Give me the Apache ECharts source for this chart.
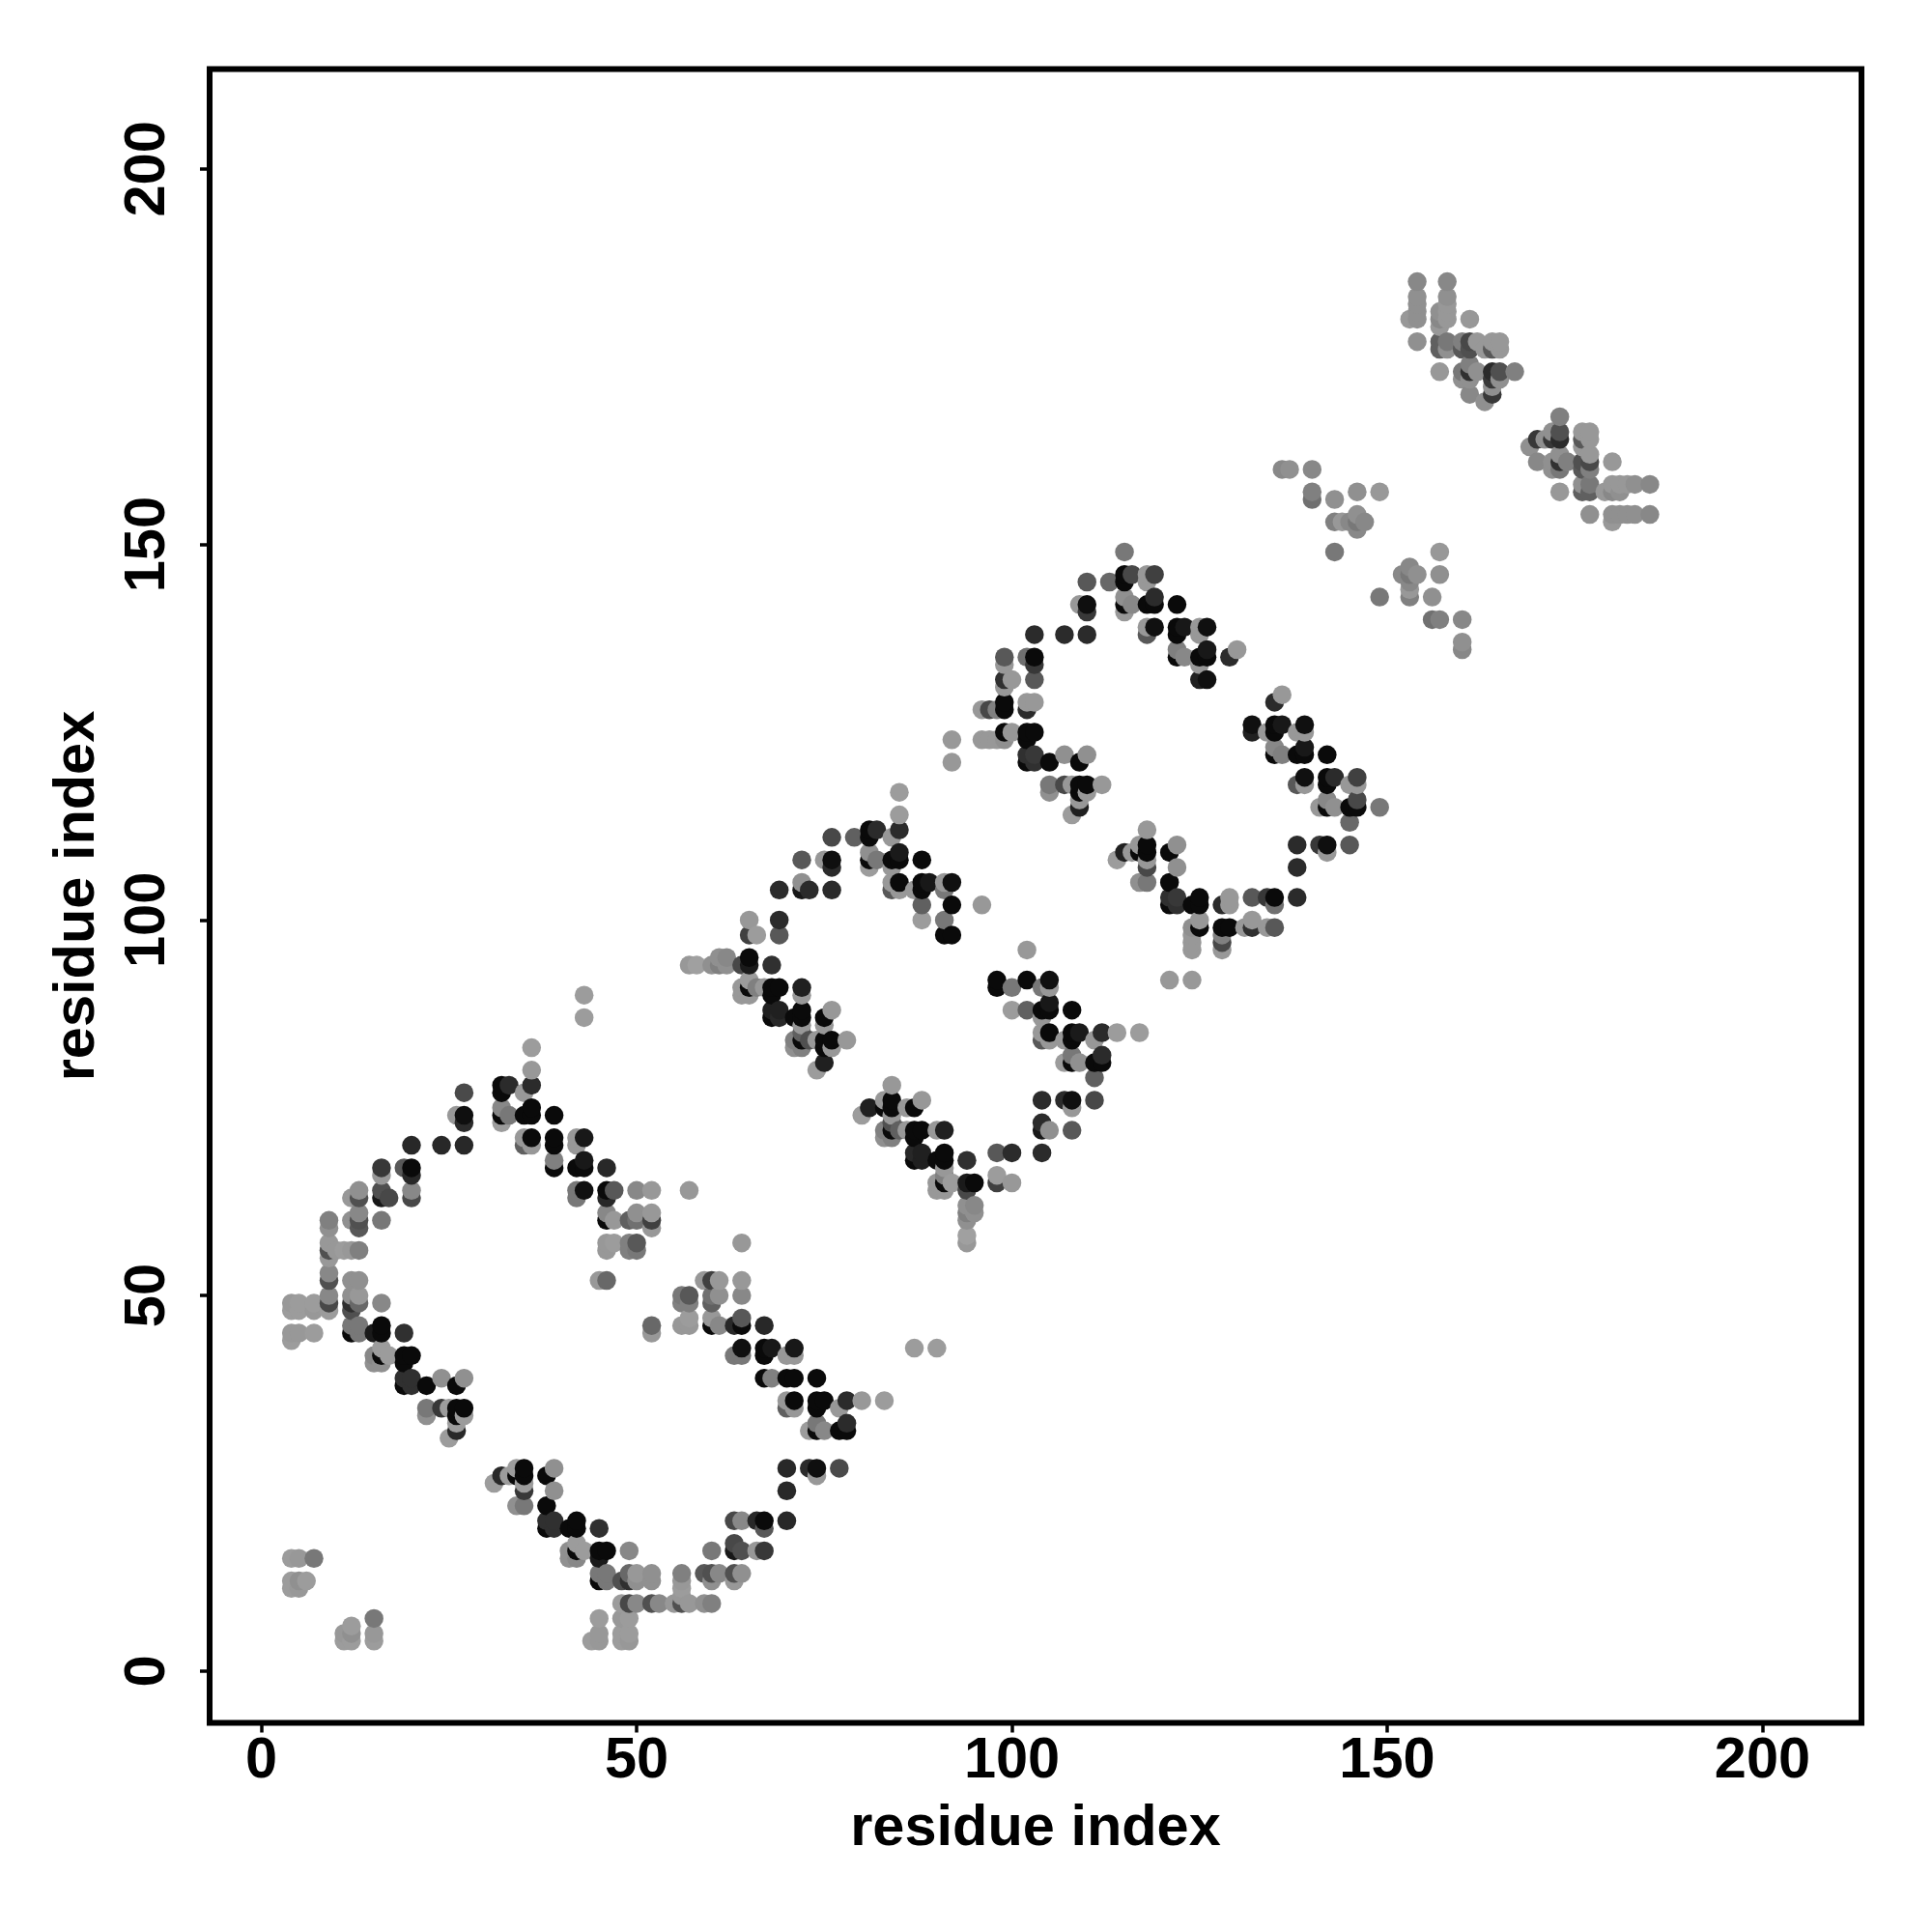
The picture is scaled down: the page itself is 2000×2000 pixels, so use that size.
<!DOCTYPE html>
<html><head><meta charset="utf-8">
<style>html,body{margin:0;padding:0;background:#fff}#c{width:2000px;height:2000px}</style>
<script src="https://cdn.jsdelivr.net/npm/echarts@6/dist/echarts.min.js"></script>
</head><body><div id="c"></div>
<script>
// Residue contacts: [residue a, residue b, grey level]. The map is symmetric, each contact is plotted at (a,b) and (b,a).
const cornerContacts = [
[4,11,0x9c],[4,12,0x9c],[4,15,0x9c],[5,11,0x98],[5,12,0x90],[5,15,0x98],[6,12,0x9c],[7,15,0x78],
[4,44,0x9c],[4,45,0x98],[4,48,0x9c],[4,49,0x98],[5,45,0x98],[5,48,0x9c],[5,49,0x9c],[7,45,0x9c],[7,48,0x98],[7,49,0x9c],
[9,48,0x9c],[9,49,0x48],[9,50,0x88],[9,52,0x50],[9,53,0x88],[9,55,0x98],[9,56,0x50],[9,57,0x98],[9,59,0x90],[9,60,0x80],
[10,56,0x98],[11,56,0x9c]
];
const sheetOneContacts = [
[12,45,0x0a],[12,46,0x78],[12,48,0x50],[12,49,0x30],[12,50,0x90],[12,52,0x90],[12,56,0x98],[12,60,0x90],[12,63,0x98],
[13,45,0x78],[13,46,0x78],[13,49,0x68],[13,50,0x98],[13,52,0x90],[13,56,0x80],[13,59,0x58],[13,60,0x50],[13,61,0x88],[13,63,0x50],[13,64,0x90],
[15,41,0x90],[15,42,0x88],[15,45,0x1a],
[16,41,0x90],[16,42,0x0a],[16,43,0x9c],[16,45,0x0a],[16,46,0x0a],[16,49,0x88],[16,60,0x78],[16,63,0x18],[16,64,0x50],[16,66,0x98],[16,67,0x38],
[17,42,0x9c],[17,63,0x48],
[19,38,0x0a],[19,39,0x30],[19,41,0x0a],[19,42,0x0a],[19,45,0x30],[19,67,0x58],
[20,38,0x30],[20,39,0x30],[20,42,0x0a],[20,63,0x48],[20,64,0x88],[20,66,0x28],[20,67,0x0a],[20,70,0x28],
[22,34,0x90],[22,35,0x78],[22,38,0x0a],
[24,35,0x38],[24,39,0x90],[24,70,0x28],
[25,31,0x9c],[25,35,0x9c],
[26,32,0x28],[26,33,0x9c],[26,34,0x0a],[26,35,0x0a],[26,38,0x0a],[26,74,0x98],
[27,34,0x9c],[27,35,0x0a],[27,39,0x90],[27,70,0x28],[27,73,0x2b],[27,74,0x0f],[27,77,0x4a]
];
const sheetTwoContacts = [
[32,73,0x9c],[32,74,0x0a],[32,75,0x88],[32,77,0x0a],[32,78,0x0a],
[33,74,0x78],[33,78,0x2b],
[35,70,0x60],[35,71,0x98],[35,74,0x0a],[35,77,0x98],
[36,70,0x98],[36,71,0x0a],[36,74,0x0a],[36,75,0x0a],[36,78,0x2b],[36,80,0x98],[36,83,0x9c],
[39,67,0x0a],[39,68,0x80],[39,70,0x0a],[39,71,0x0a],[39,74,0x0a],
[42,63,0x78],[42,64,0x78],[42,67,0x0a],[42,70,0x98],[42,71,0x98],
[43,64,0x10],[43,67,0x0a],[43,68,0x18],[43,71,0x18],[43,87,0x9c],[43,90,0x9c],
[45,52,0x98],
[46,52,0x68],[46,56,0x98],[46,57,0x98],[46,60,0x0a],[46,61,0x88],[46,63,0x28],[46,64,0x0a],[46,67,0x28],
[47,57,0x9c],[47,60,0x98],[47,64,0x58],
[49,56,0x80],[49,57,0x80],[49,60,0x60],
[50,56,0x78],[50,57,0x58],[50,60,0x70],[50,61,0x90],[50,64,0x88],
[52,59,0x98],[52,60,0x40],[52,61,0x98],[52,64,0x98]
];
const sheetThreeContacts = [
[57,64,0x98],[57,94,0x98],[58,94,0xa0],[60,94,0x90],[61,94,0x80],[61,95,0x90],[62,94,0x90],[62,95,0x88],
[64,90,0x98],[64,91,0x98],[64,94,0x48],
[65,90,0x98],[65,91,0x0a],[65,92,0x9c],[65,94,0x1a],[65,95,0x0a],[65,98,0x40],[65,100,0x98],
[66,91,0x80],[66,98,0x9c],[67,91,0x98],
[68,87,0x0a],[68,88,0x20],[68,90,0x0a],[68,91,0x0a],[68,94,0x30],
[69,87,0x28],[69,88,0x20],[69,91,0x0a],[69,98,0x58],[69,100,0x2b],[69,104,0x2b],
[71,83,0x90],[71,84,0x80],[71,87,0x0a],
[72,83,0x80],[72,84,0x0a],[72,85,0x60],[72,86,0x98],[72,87,0x0a],[72,88,0x0a],[72,90,0x98],[72,91,0x20],[72,104,0x18],[72,105,0x90],[72,108,0x58],
[73,84,0x50],[73,104,0x2b],
[74,80,0x9c],[74,84,0x98],
[75,81,0x20],[75,83,0x0a],[75,84,0x0a],[75,86,0x98],[75,87,0x0a],[75,108,0x98],
[76,83,0x98],[76,84,0x0a],[76,88,0x98],[76,104,0x2b],[76,107,0x2b],[76,108,0x0f],[76,111,0x48],
[78,84,0x98],[79,111,0x60]
];
const sheetFourContacts = [
[81,107,0x9c],[81,108,0x0a],[81,109,0x90],[81,111,0x0a],[81,112,0x0a],
[82,108,0x78],[82,112,0x2b],
[84,104,0x58],[84,105,0x98],[84,107,0x98],[84,108,0x0a],[84,111,0x98],
[85,104,0x98],[85,105,0x0a],[85,108,0x0a],[85,109,0x1a],[85,112,0x2b],[85,114,0x9c],[85,117,0x9c],
[87,104,0x98],
[88,100,0x9c],[88,102,0x60],[88,104,0x0a],[88,105,0x0a],[88,108,0x0a],
[89,105,0x18],
[91,98,0x0a],[91,100,0x78],[91,104,0x78],[91,105,0x98],
[92,98,0x0a],[92,102,0x0a],[92,105,0x10],[92,121,0x98],[92,124,0x98],
[96,102,0x98],[96,124,0x98],[96,128,0x98],
[97,124,0x98],[97,128,0x48],
[98,124,0x98],[98,128,0x80],
[99,124,0x90],[99,125,0x0a],[99,128,0x0a],[99,129,0x0a],[99,131,0x98],[99,132,0x30],[99,134,0x98],[99,135,0x58],
[100,125,0x98],[100,132,0x98]
];
const sheetFiveContacts = [
[102,121,0x0a],[102,122,0x30],[102,124,0x0a],[102,125,0x0a],[102,128,0x2b],[102,129,0x98],[102,135,0x70],
[103,121,0x30],[103,122,0x38],[103,125,0x0a],[103,129,0x98],[103,132,0x58],[103,134,0x38],[103,135,0x0a],[103,138,0x2b],
[105,117,0x90],[105,118,0x78],[105,121,0x0a],
[107,118,0x48],[107,122,0x90],[107,138,0x2b],
[108,114,0x9c],[108,118,0x98],
[109,115,0x20],[109,116,0x98],[109,117,0x0a],[109,118,0x0a],[109,121,0x0a],[109,142,0x98],
[110,117,0x98],[110,118,0x0a],[110,122,0x90],[110,138,0x2b],[110,141,0x38],[110,142,0x0f],[110,145,0x58],
[112,118,0x98],[113,145,0x68],
[115,141,0x98],[115,142,0x0a],[115,143,0x90],[115,145,0x0a],[115,146,0x0a],[115,149,0x78],
[116,142,0x88],[116,146,0x48],
[118,138,0x58],[118,139,0x98],[118,142,0x0a],[118,145,0x98],[118,146,0x98],
[119,139,0x10],[119,142,0x0a],[119,143,0x2b],[119,146,0x40],
[122,135,0x0a],[122,136,0x80],[122,138,0x0a],[122,139,0x0a],[122,142,0x0a],
[123,135,0x88],[123,139,0x18],
[125,132,0x20],[125,134,0x98],[125,135,0x0a],[125,138,0x98],[125,139,0x98],
[126,132,0x10],[126,135,0x0a],[126,136,0x18],[126,139,0x10],
[129,135,0x2b],[130,136,0x98]
];
const isolatedContacts = [
[136,160,0x88],[137,160,0x90],[140,156,0x70],[140,157,0x80],[140,160,0x88],
[143,149,0x78],[143,153,0x80],[143,156,0x90],[144,153,0x98],[145,153,0x88],
[146,152,0x88],[146,153,0x78],[146,154,0x90],[146,157,0x90],[147,153,0x88],[149,157,0x98]
];
const tailContacts = [
[153,180,0x98],
[154,177,0x90],[154,180,0x90],[154,181,0x90],[154,182,0x90],[154,183,0x90],[154,185,0x88],
[157,173,0x98],[157,176,0x60],[157,177,0x60],[157,179,0x98],[157,180,0x88],[157,181,0x90],
[158,176,0x90],[158,177,0x78],[158,180,0x98],[158,181,0x98],[158,182,0x98],[158,183,0x90],[158,185,0x88],
[160,172,0x90],[160,173,0x78],[160,176,0x58],[160,177,0x80],
[161,170,0x88],[161,172,0x90],[161,173,0x30],[161,174,0x80],[161,176,0x50],[161,177,0x48],[161,180,0x98],
[162,173,0x90],[162,177,0x98],
[163,169,0x90],[163,176,0x98],
[164,170,0x38],[164,171,0x90],[164,172,0x38],[164,173,0x2b],[164,176,0x58],[164,177,0x98],
[165,172,0x90],[165,173,0x50],[165,176,0x98],[165,177,0x98],
[167,173,0x80],
[169,163,0x88],[170,164,0x38]
];
const tickLabels = [0, 50, 100, 150, 200];
const axisTitle = 'residue index';

const contacts = [].concat(cornerContacts, sheetOneContacts, sheetTwoContacts, sheetThreeContacts,
  sheetFourContacts, sheetFiveContacts, isolatedContacts, tailContacts);
const seen = new Set();
const points = [];
function add(x, y, g) {
  const k = x + ',' + y;
  if (seen.has(k)) return;
  seen.add(k);
  points.push({ value: [x, y], itemStyle: { color: 'rgb(' + g + ',' + g + ',' + g + ')', opacity: 1 } });
}
contacts.forEach(function (c) { add(c[0], c[1], c[2]); add(c[1], c[0], c[2]); });
points.sort(function (p, q) { return p.value[0] - q.value[0] || p.value[1] - q.value[1]; });

const FONT = '"Liberation Sans", Arial, sans-serif';
function axis(isY) {
  return {
    type: 'value',
    min: -6.9,
    max: isY ? 213.3 : 213.2,
    name: axisTitle,
    nameLocation: 'middle',
    nameGap: isY ? 106 : 80,
    nameTextStyle: { fontFamily: FONT, fontWeight: 'bold', fontSize: 59.5, color: '#000' },
    splitLine: { show: false },
    axisLine: { show: false, onZero: false },
    axisTick: { show: true, length: 10, inside: false, customValues: tickLabels, lineStyle: { color: '#000', width: 3.5 } },
    axisLabel: {
      show: true, customValues: tickLabels, rotate: isY ? 90 : 0, margin: isY ? 63 : 10,
      fontFamily: FONT, fontWeight: 'bold', fontSize: 59.5, color: '#000',
      align: 'center', verticalAlign: isY ? 'middle' : 'top'
    }
  };
}
const chart = echarts.init(document.getElementById('c'), null, { renderer: 'canvas' });
chart.setOption({
  animation: false,
  backgroundColor: '#fff',
  grid: { left: 217, top: 71.5, width: 1710, height: 1712, show: true, borderColor: '#000', borderWidth: 6, backgroundColor: 'transparent' },
  xAxis: axis(false),
  yAxis: axis(true),
  series: [{
    type: 'scatter', data: points, symbol: 'circle', symbolSize: 19.5,
    large: false, progressive: 0, silent: true, clip: false
  }]
});
</script></body></html>
